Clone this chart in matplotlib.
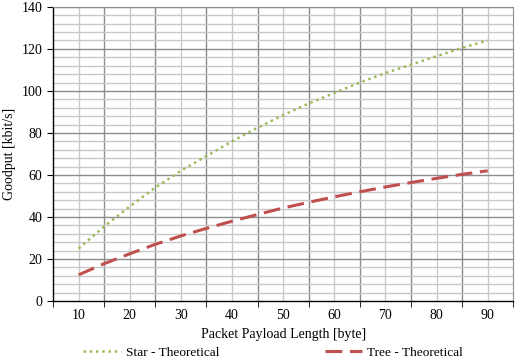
import numpy as np
import matplotlib.pyplot as plt
from matplotlib.ticker import MultipleLocator, FixedLocator, NullFormatter

plt.rcParams['font.family'] = ['Liberation Serif', 'DejaVu Serif']

# payload length [byte]
payload = [10, 15, 20, 25, 30, 35, 40, 45, 50, 55, 60, 65, 70, 75, 80, 85, 90]
# goodput [kbit/s]
star_theo = [25, 35.5, 45, 54, 62, 69, 76, 82.5, 88.5, 94, 99, 104, 108.5, 112.5, 116.5, 120.5, 124]
tree_theo = [12.5, 17.8, 22.5, 27, 31, 34.6, 38, 41.2, 44.3, 47, 49.6, 52, 54.3, 56.4, 58.4, 60.3, 62]

x_ticks = [10, 20, 30, 40, 50, 60, 70, 80, 90]
x_bounds = [5, 15, 25, 35, 45, 55, 65, 75, 85, 95]

fig = plt.figure(figsize=(5.2, 3.61), dpi=100, facecolor='white')
ax = fig.add_axes([0.102, 0.166, 0.885, 0.815])

# grid: light lines at categories, darker at boundaries
for v in x_ticks:
    ax.axvline(v, color='#c8c8c8', lw=1.0, zorder=0)
for v in x_bounds[1:-1]:
    ax.axvline(v, color='#8c8c8c', lw=1.0, zorder=0)
for v in np.arange(0, 141, 4):
    if v % 20:
        ax.axhline(v, color='#c8c8c8', lw=1.0, zorder=0)
for v in np.arange(20, 141, 20):
    ax.axhline(v, color='#8c8c8c', lw=1.0, zorder=0)

ax.plot(payload, star_theo, color='#9bbb59', ls=(0, (1, 1.5)), lw=1.8,
        label='Star - Theoretical')
ax.plot(payload, tree_theo, color='#c0504d', ls=(0, (5.5, 2.5)), lw=2.2,
        label='Tree - Theoretical')

ax.set_xlim(5, 95)
ax.set_ylim(0, 140)
ax.set_xticks(x_ticks)
ax.xaxis.set_minor_locator(FixedLocator(x_bounds))
ax.xaxis.set_minor_formatter(NullFormatter())
ax.yaxis.set_major_locator(MultipleLocator(20))
ax.tick_params(axis='x', which='major', length=0, labelsize=10, pad=6)
ax.tick_params(axis='x', which='minor', length=4, direction='out')
ax.tick_params(axis='y', which='major', length=4, direction='out', labelsize=10)

for s in ['top', 'right']:
    ax.spines[s].set_color('#8c8c8c')
for s in ['left', 'bottom']:
    ax.spines[s].set_color('black')
    ax.spines[s].set_linewidth(1.0)

ax.set_xlabel('Packet Payload Length [byte]', fontsize=10, labelpad=4)
ax.set_ylabel('Goodput [kbit/s]', fontsize=10, labelpad=4)

fig.legend(loc='center left', bbox_to_anchor=(0.16, 0.024), ncol=2, frameon=False,
           fontsize=9.6, handlelength=2.8, handletextpad=0.4, columnspacing=7.9,
           borderpad=0, borderaxespad=0)

fig.savefig('out.png', dpi=100)
